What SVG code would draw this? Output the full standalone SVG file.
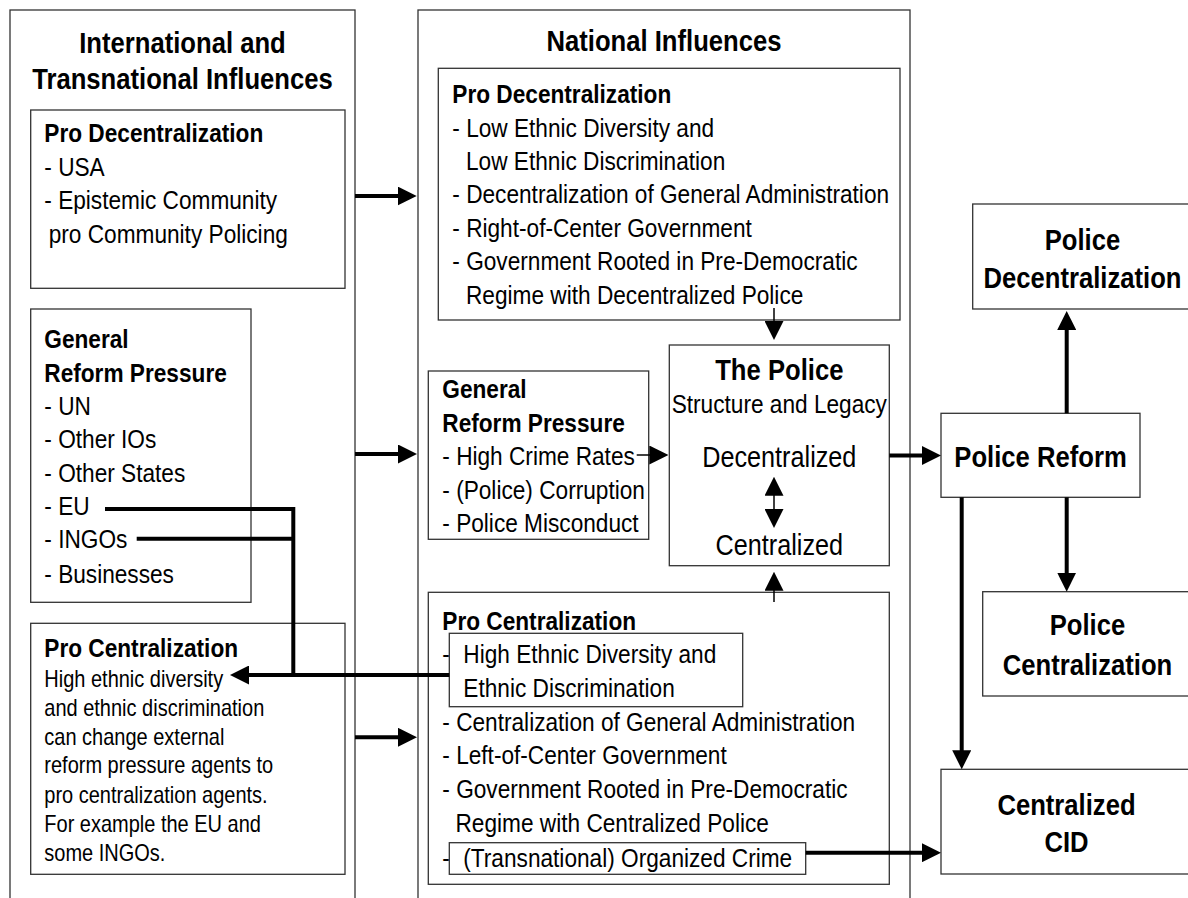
<svg xmlns="http://www.w3.org/2000/svg" width="1188" height="898" viewBox="0 0 1188 898">
<style>
text{font-family:"Liberation Sans",Arial,sans-serif;fill:#000}
.t{font-size:30px;font-weight:bold}
.b{font-size:26.5px;font-weight:bold}
.r{font-size:26.5px}
.s{font-size:23.4px}
.p{font-size:29.5px}
.c{text-anchor:middle}
.box{fill:#fff;stroke:#333;stroke-width:1.3}
.thick{fill:none;stroke:#000;stroke-width:4}
.thin{fill:none;stroke:#000;stroke-width:1.5}
</style>
<defs>
<marker id="ah" markerUnits="userSpaceOnUse" markerWidth="19" markerHeight="19" refX="9" refY="9.5" orient="auto-start-reverse" viewBox="0 0 19 19">
<path d="M0,0 L19,9.5 L0,19 Z" fill="#000"/>
</marker>
</defs>
<rect width="1188" height="898" fill="#fff"/>

<g id="international">
<rect class="box" x="10" y="10" width="345" height="900"/>
<text class="t c" transform="translate(182.5 52.5) scale(0.855 1)">International and</text>
<text class="t c" transform="translate(182.5 89) scale(0.855 1)">Transnational Influences</text>
</g>

<g id="national">
<rect class="box" x="418" y="10" width="492" height="900"/>
<text class="t c" transform="translate(664 51) scale(0.855 1)">National Influences</text>
</g>

<g id="intl-pro-decentralization">
<rect class="box" x="30.7" y="110" width="314.3" height="178.3"/>
<text class="b" transform="translate(44.3 141.7) scale(0.855 1)">Pro Decentralization</text>
<text class="r" transform="translate(44.3 176) scale(0.855 1)">- USA</text>
<text class="r" transform="translate(44.3 209.3) scale(0.855 1)">- Epistemic Community</text>
<text class="r" transform="translate(48.7 242.7) scale(0.855 1)">pro Community Policing</text>
</g>

<g id="intl-general-reform">
<rect class="box" x="30.7" y="309" width="220.3" height="293.3"/>
<text class="b" transform="translate(44.3 348.3) scale(0.855 1)">General</text>
<text class="b" transform="translate(44.3 381.7) scale(0.855 1)">Reform Pressure</text>
<text class="r" transform="translate(44.3 415) scale(0.855 1)">- UN</text>
<text class="r" transform="translate(44.3 448.3) scale(0.855 1)">- Other IOs</text>
<text class="r" transform="translate(44.3 481.7) scale(0.855 1)">- Other States</text>
<text class="r" transform="translate(44.3 515) scale(0.855 1)">- EU</text>
<text class="r" transform="translate(44.3 548.3) scale(0.855 1)">- INGOs</text>
<text class="r" transform="translate(44.3 582.7) scale(0.855 1)">- Businesses</text>
</g>

<g id="intl-pro-centralization">
<rect class="box" x="30.7" y="623.3" width="314.3" height="251"/>
<text class="b" transform="translate(44.3 656.7) scale(0.855 1)">Pro Centralization</text>
<text class="s" transform="translate(44.3 687.3) scale(0.855 1)">High ethnic diversity</text>
<text class="s" transform="translate(44.3 716) scale(0.855 1)">and ethnic discrimination</text>
<text class="s" transform="translate(44.3 745) scale(0.855 1)">can change external</text>
<text class="s" transform="translate(44.3 773.3) scale(0.855 1)">reform pressure agents to</text>
<text class="s" transform="translate(44.3 802.7) scale(0.855 1)">pro centralization agents.</text>
<text class="s" transform="translate(44.3 831.7) scale(0.855 1)">For example the EU and</text>
<text class="s" transform="translate(44.3 861) scale(0.855 1)">some INGOs.</text>
</g>

<g id="nat-pro-decentralization">
<rect class="box" x="438.3" y="68.3" width="461.7" height="251.7"/>
<text class="b" transform="translate(452.3 103) scale(0.855 1)">Pro Decentralization</text>
<text class="r" transform="translate(452.3 137) scale(0.855 1)">- Low Ethnic Diversity and</text>
<text class="r" transform="translate(466 170) scale(0.855 1)">Low Ethnic Discrimination</text>
<text class="r" transform="translate(452.3 203.3) scale(0.855 1)">- Decentralization of General Administration</text>
<text class="r" transform="translate(452.3 237) scale(0.855 1)">- Right-of-Center Government</text>
<text class="r" transform="translate(452.3 270) scale(0.855 1)">- Government Rooted in Pre-Democratic</text>
<text class="r" transform="translate(466 304) scale(0.855 1)">Regime with Decentralized Police</text>
</g>

<g id="nat-general-reform">
<rect class="box" x="428.3" y="371" width="220.4" height="168.3"/>
<text class="b" transform="translate(442.3 398.3) scale(0.855 1)">General</text>
<text class="b" transform="translate(442.3 432.3) scale(0.855 1)">Reform Pressure</text>
<text class="r" transform="translate(442.3 465) scale(0.855 1)">- High Crime Rates</text>
<text class="r" transform="translate(442.3 499.3) scale(0.855 1)">- (Police) Corruption</text>
<text class="r" transform="translate(442.3 531.7) scale(0.855 1)">- Police Misconduct</text>
</g>

<g id="the-police">
<rect class="box" x="669.3" y="345" width="220" height="220.7"/>
<text class="t c" transform="translate(779.3 380) scale(0.855 1)">The Police</text>
<text class="r c" transform="translate(779.3 413.3) scale(0.855 1)">Structure and Legacy</text>
<text class="p c" transform="translate(779.3 466.7) scale(0.855 1)">Decentralized</text>
<text class="p c" transform="translate(779.3 555) scale(0.855 1)">Centralized</text>
<line class="thin" x1="774" y1="486.7" x2="774" y2="518" marker-start="url(#ah)" marker-end="url(#ah)"/>
</g>

<g id="nat-pro-centralization">
<rect class="box" x="428.3" y="592.3" width="461" height="292"/>
<text class="b" transform="translate(442.3 630) scale(0.855 1)">Pro Centralization</text>
<text class="r" transform="translate(442.3 662.7) scale(0.855 1)">-</text>
<text class="r" transform="translate(442.3 730.7) scale(0.855 1)">- Centralization of General Administration</text>
<text class="r" transform="translate(442.3 764.3) scale(0.855 1)">- Left-of-Center Government</text>
<text class="r" transform="translate(442.3 798.3) scale(0.855 1)">- Government Rooted in Pre-Democratic</text>
<text class="r" transform="translate(455.5 831.7) scale(0.855 1)">Regime with Centralized Police</text>
<text class="r" transform="translate(442.3 866.7) scale(0.855 1)">-</text>
</g>

<g id="high-ethnic-diversity">
<rect class="box" x="449.3" y="633.3" width="293.4" height="73.4"/>
<text class="r" transform="translate(463.3 662.7) scale(0.855 1)">High Ethnic Diversity and</text>
<text class="r" transform="translate(463.3 696.7) scale(0.855 1)">Ethnic Discrimination</text>
</g>

<g id="organized-crime">
<rect class="box" x="449.3" y="842.7" width="356.4" height="31.6"/>
<text class="r" transform="translate(463.3 866.7) scale(0.855 1)">(Transnational) Organized Crime</text>
</g>

<g id="police-decentralization">
<rect class="box" x="972.7" y="204" width="219.3" height="105"/>
<text class="t c" transform="translate(1082.5 250) scale(0.855 1)">Police</text>
<text class="t c" transform="translate(1082.5 287.7) scale(0.855 1)">Decentralization</text>
</g>

<g id="police-reform">
<rect class="box" x="941" y="413.3" width="199" height="84"/>
<text class="t c" transform="translate(1040.5 466.7) scale(0.855 1)">Police Reform</text>
</g>

<g id="police-centralization">
<rect class="box" x="982.7" y="591.7" width="209.3" height="104.3"/>
<text class="t c" transform="translate(1087.5 635) scale(0.855 1)">Police</text>
<text class="t c" transform="translate(1087.5 675) scale(0.855 1)">Centralization</text>
</g>

<g id="centralized-cid">
<rect class="box" x="941" y="769.3" width="251" height="104.7"/>
<text class="t c" transform="translate(1066.5 815) scale(0.855 1)">Centralized</text>
<text class="t c" transform="translate(1066.5 851.7) scale(0.855 1)">CID</text>
</g>

<g id="connectors">
<line class="thick" x1="355" y1="196" x2="406.7" y2="196" marker-end="url(#ah)"/>
<line class="thick" x1="355" y1="454" x2="407" y2="454" marker-end="url(#ah)"/>
<line class="thick" x1="355" y1="737.3" x2="407" y2="737.3" marker-end="url(#ah)"/>
<line class="thin" x1="774" y1="308" x2="774" y2="330" marker-end="url(#ah)"/>
<line class="thin" x1="774" y1="602" x2="774" y2="581.7" marker-end="url(#ah)"/>
<line class="thin" x1="636.7" y1="455" x2="658.3" y2="455" marker-end="url(#ah)"/>
<line class="thick" x1="889.3" y1="455.5" x2="931" y2="455.5" marker-end="url(#ah)"/>
<line class="thick" x1="1066.7" y1="413.3" x2="1066.7" y2="321" marker-end="url(#ah)"/>
<line class="thick" x1="1066.7" y1="497.3" x2="1066.7" y2="581.7" marker-end="url(#ah)"/>
<line class="thick" x1="961.7" y1="497.3" x2="961.7" y2="759.3" marker-end="url(#ah)"/>
<line class="thick" x1="805.7" y1="852.7" x2="931" y2="852.7" marker-end="url(#ah)"/>
<path class="thick" d="M105,509 H293.3 V675"/>
<path class="thick" d="M136.7,538.7 H293.3"/>
<line class="thick" x1="449.3" y1="675" x2="240" y2="675" marker-end="url(#ah)"/>
</g>
</svg>
